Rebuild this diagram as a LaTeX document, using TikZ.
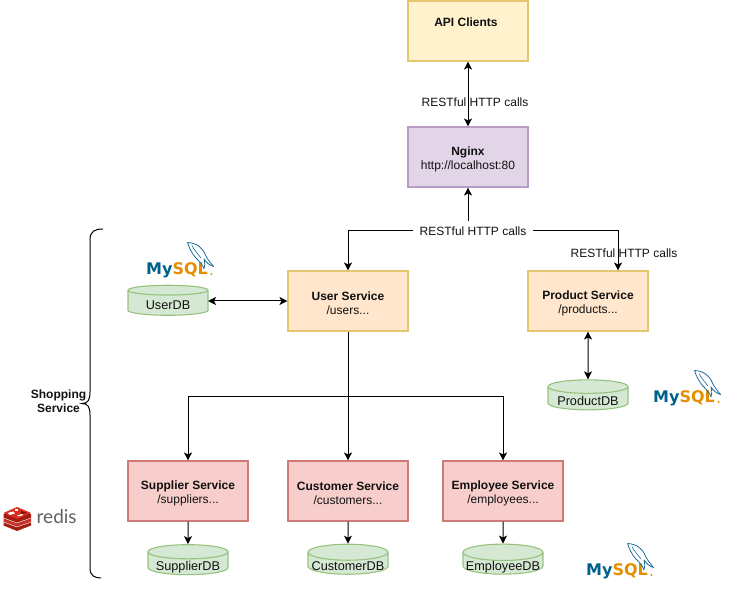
\documentclass[tikz,border=0pt]{standalone}
\usepackage{fontspec}
\setmainfont{Liberation Sans}
\newfontfamily\mysqlfont{DejaVu Sans}
\newfontfamily\redisfont{Lato}
\usetikzlibrary{arrows.meta,shapes.geometric,calc}
\definecolor{mblue}{HTML}{00618A}
\definecolor{morange}{HTML}{E48E00}
\definecolor{dolph}{HTML}{1F6F94}
\definecolor{ink}{HTML}{111111}
\definecolor{yboxline}{HTML}{E3C66E}\definecolor{yboxfill}{HTML}{FFF2CC}
\definecolor{pboxline}{HTML}{B89CC6}\definecolor{pboxfill}{HTML}{E1D5E7}
\definecolor{oboxfill}{HTML}{FFE6CC}
\definecolor{rboxline}{HTML}{CF7A76}\definecolor{rboxfill}{HTML}{F8CECC}
\definecolor{gboxline}{HTML}{97C27E}\definecolor{gboxfill}{HTML}{D5E8D4}
\newcommand{\boxtitle}[1]{\rule{0pt}{13pt}\textbf{#1}}
\newcommand{\dbtext}[1]{\raisebox{-7pt}[0pt][0pt]{#1}}
\tikzset{
  svc/.style={draw=#1,line width=1.1pt,minimum width=120pt,minimum height=60pt,align=center,inner sep=0pt,text=ink,font=\fontsize{12}{14}\selectfont},
  yellowbox/.style={svc=yboxline,fill=yboxfill},
  purplebox/.style={svc=pboxline,fill=pboxfill},
  orangebox/.style={svc=yboxline,fill=oboxfill},
  redbox/.style={svc=rboxline,fill=rboxfill},
  dbcyl/.style={cylinder,shape border rotate=90,aspect=0.22,draw=gboxline,line width=1.1pt,cylinder uses custom fill,cylinder body fill=gboxfill,cylinder end fill=gboxfill,minimum width=80pt,minimum height=30pt,inner sep=0pt,text=ink,font=\fontsize{12.7}{14}\selectfont},
  lbl/.style={text=ink,font=\fontsize{12}{14}\selectfont,inner sep=0pt},
  conn/.style={line width=1pt,black,-{Stealth[length=8pt,width=8pt,inset=2pt]}},
  conn2/.style={line width=1pt,black,{Stealth[length=8pt,width=8pt,inset=2pt]}-{Stealth[length=8pt,width=8pt,inset=2pt]}},
}
\newcommand{\mysqllogo}[2]{%
  \begin{scope}[shift={(#1,#2)}]
    \node[anchor=base west,inner sep=0pt,font=\mysqlfont\bfseries\fontsize{16}{18}\selectfont] at (0,33) {\textcolor{mblue}{My}\textcolor{morange}{SQL}};
    \fill[morange] (65.5,32) circle (1.1);
    \draw[dolph,line width=.8pt,line join=round] (41.5,0.5) .. controls (50,1) and (56,5) .. (59,12) .. controls (61,17) and (64,20) .. (67.5,24.5) .. controls (63,23) and (61,21) .. (58,17) .. controls (59,21) and (59,24) .. (58,27) .. controls (57,23) and (53,19) .. (49,15) .. controls (46,11) and (43,6) .. (41.5,0.5);
    \draw[dolph,line width=.6pt] (46,3.5) .. controls (48,8) and (52,12) .. (55,16);
  \end{scope}}
\begin{document}
\begin{tikzpicture}[x=1pt,y=-1pt]
\useasboundingbox (0,0) rectangle (729,601);
% boxes
\node[yellowbox] (api) at (468,31) {\textbf{API Clients}\rule{4pt}{0pt}\\[4pt]\phantom{x}};
\node[purplebox] (nginx) at (468,157) {\boxtitle{Nginx}\\http://localhost:80};
\node[orangebox] (user) at (348,301) {\boxtitle{User Service}\\/users...};
\node[orangebox] (product) at (588,301) {\boxtitle{Product Service}\\/products...};
\node[redbox] (supplier) at (188,491) {\boxtitle{Supplier Service}\\/suppliers...};
\node[redbox] (customer) at (348,491) {\boxtitle{Customer Service}\\/customers...};
\node[redbox] (employee) at (503,491) {\boxtitle{Employee Service}\\/employees...};
% databases
\node[dbcyl] (userdb) at (168,303) {\dbtext{UserDB}};
\node[dbcyl] (productdb) at (588,398.5) {\dbtext{ProductDB}};
\node[dbcyl] (supplierdb) at (188,563.5) {\dbtext{SupplierDB}};
\node[dbcyl] (customerdb) at (348,563.5) {\dbtext{CustomerDB}};
\node[dbcyl] (employeedb) at (503,563.5) {\dbtext{EmployeeDB}};
% connectors
\coordinate (hub) at (468,231);
\coordinate (prodin) at ($(product.north)+(30,0)$);
\coordinate (branch) at (348,397);
\coordinate (userdbr) at (208,301);
\draw[conn2] (api) -- (nginx);
\draw[conn] (hub) -- (nginx);
\draw[conn] (hub) -| (user);
\draw[conn] (hub) -| (prodin);
\node[fill=white,minimum width=120pt,minimum height=20pt,inner sep=0pt,lbl] (rest2) at (473,231.5) {RESTful HTTP calls};
\node[lbl] (rest1) at (475,102) {RESTful HTTP calls};
\node[lbl] (rest3) at (624,253) {RESTful HTTP calls};
\draw[conn2] (userdbr) -- (user.west);
\draw[conn2] (product) -- (productdb.north);
\draw[conn] (user) -- (customer);
\draw[conn] (branch) -| (supplier);
\draw[conn] (branch) -| (employee);
\draw[conn] (supplier) -- (supplierdb.north);
\draw[conn] (customer) -- (customerdb.north);
\draw[conn] (employee) -- (employeedb.north);
% brace
\draw[black,line width=1pt] (103,229) .. controls (95,229) and (90,231) .. (90,240) -- (90,392) .. controls (90,400) and (88,403.5) .. (82,403.5) .. controls (88,403.5) and (90,407) .. (90,415) -- (90,568) .. controls (90,576) and (95,578) .. (101,578);
\node[lbl,align=center,font=\bfseries\fontsize{12}{14}\selectfont] (shop) at (58.5,401) {Shopping\\Service};
% logos
\mysqllogo{146}{242}
\mysqllogo{653}{370}
\mysqllogo{586}{543}
% redis
\definecolor{rdark}{HTML}{A41E11}\definecolor{rmid}{HTML}{C6302B}\definecolor{rtop}{HTML}{D82C20}
\fill[rdark] (3.5,522) -- (17,516) -- (31,522) -- (31,525.5) -- (17,531) -- (3.5,525.5) -- cycle;
\fill[rmid] (3.5,518) -- (17,512) -- (31,518) -- (31,522) -- (17,527) -- (3.5,522) -- cycle;
\fill[rdark] (3.5,514) -- (17,508) -- (31,514) -- (31,518) -- (17,523) -- (3.5,518) -- cycle;
\fill[rtop] (3.5,513) -- (17,507) -- (31,513) -- (17,519) -- cycle;
\fill[white] (7.5,513) -- (13,511.5) -- (15,513.5) -- (10,515) -- cycle;
\fill[white] (15,509.5) -- (18,509.5) -- (18,511.5) -- (15,511.5) -- cycle;
\fill[white] (17,515.5) -- (22,514) -- (23.5,515) -- (18.5,516.5) -- cycle;
\fill[rdark!70!black] (21,511) -- (27,513) -- (21,514) -- cycle;
\draw[white,line width=.4pt] (3.5,518) -- (17,523) -- (31,518);
\draw[white,line width=.4pt] (3.5,522) -- (17,527) -- (31,522);
\node[anchor=base west,inner sep=0pt,text=black!62,font=\redisfont\fontsize{19}{20}\selectfont] (redis) at (36.5,524) {redis};
\end{tikzpicture}
\end{document}
